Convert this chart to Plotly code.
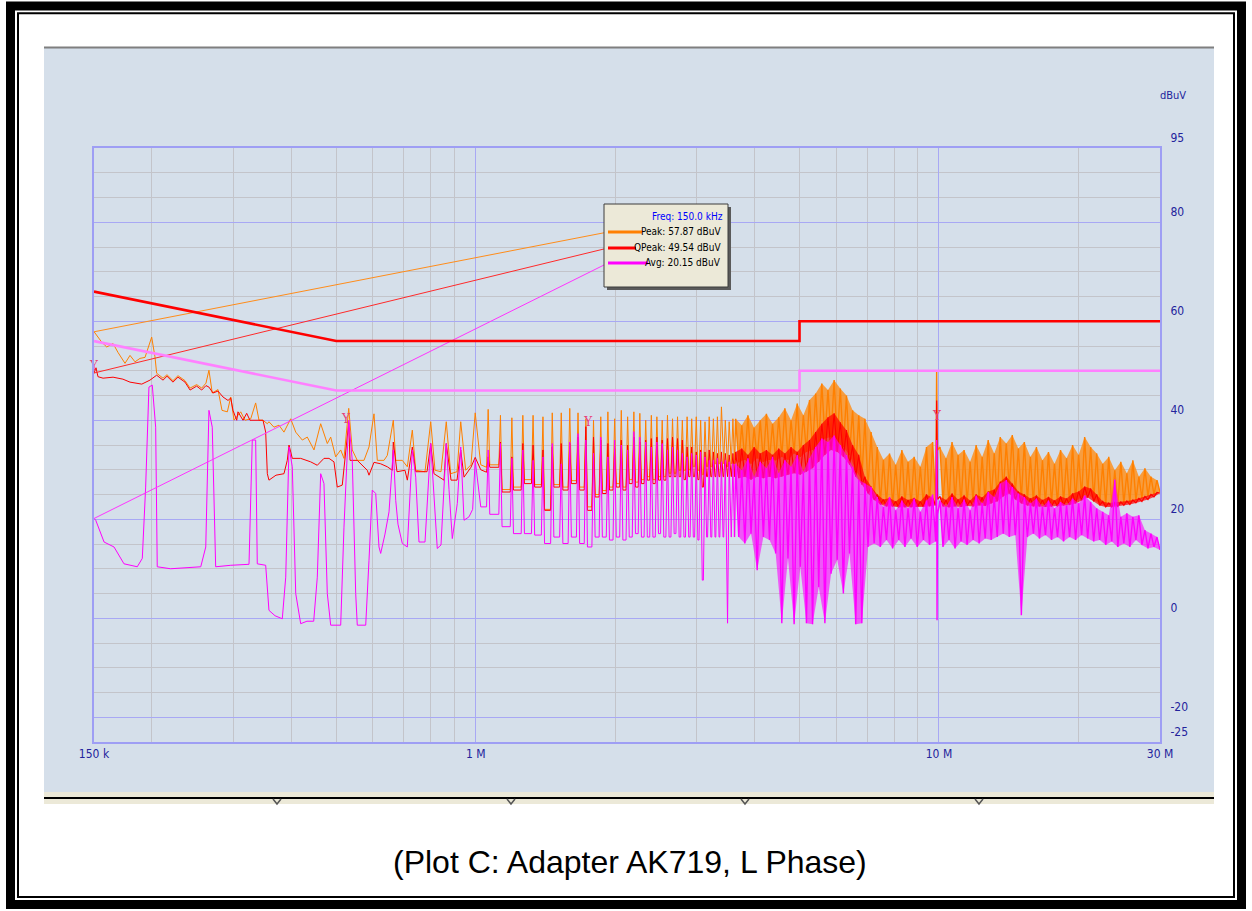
import numpy as np
import plotly.graph_objects as go

# ---------------- DATA ----------------
# Low band 150 kHz - 1 MHz (frequencies in kHz, levels in dBuV)
peak_lo_khz = [150.0, 155.8, 159.8, 164.9, 169.0, 175.0, 179.4, 183.9, 188.5, 193.3,
               199.8, 203.1, 204.8, 211.4, 215.6, 222.1, 227.7, 235.8, 241.8, 249.9,
               256.2, 261.7, 265.6, 270.0, 277.8, 283.4, 291.0, 296.0, 300.8, 311.0,
               317.7, 326.9, 335.0, 340.6, 347.5, 355.0, 357.9, 366.9, 376.2, 385.6,
               398.7, 408.8, 422.4, 433.0, 447.7, 462.8, 478.3, 486.4, 498.6, 511.2,
               519.6, 532.0, 541.5, 555.1, 574.0, 588.4, 603.2, 613.2, 634.0, 644.5,
               664.0, 672.0, 694.4, 711.9, 729.8, 742.2, 777.3, 799.7, 817.0, 841.6,
               864.0, 883.2, 911.4, 928.3, 951.5, 976.8, 997.5, 1025.5]
peak_lo_db = [57.9, 55.8, 54.8, 55.5, 53.7, 51.5, 53.1, 51.8, 52.5, 52.7,
              56.8, 52.8, 49.5, 48.5, 49.2, 48.0, 49.0, 48.0, 46.5, 47.2,
              46.5, 47.5, 50.1, 45.5, 46.2, 42.0, 41.7, 44.7, 40.0, 41.7,
              40.0, 40.3, 43.5, 40.0, 40.0, 39.3, 39.7, 38.6, 39.0, 37.6,
              40.3, 37.6, 36.0, 36.6, 34.0, 39.3, 35.3, 36.6, 32.6, 34.0,
              32.3, 42.4, 34.0, 31.9, 31.9, 34.6, 41.3, 31.9, 31.9, 32.9,
              40.0, 31.9, 31.9, 30.6, 38.0, 29.9, 29.6, 39.7, 29.9, 29.6,
              39.7, 29.2, 29.6, 39.7, 29.9, 31.0, 41.5, 31.0]

qp_lo_khz = [150.0, 151.5, 153.0, 156.9, 164.9, 173.2, 179.4, 190.2, 198.1, 204.8,
             211.4, 215.6, 222.1, 227.7, 235.8, 241.8, 249.9, 256.2, 261.7, 265.6,
             271.0, 277.8, 284.8, 292.0, 296.0, 299.3, 304.9, 306.8, 314.6, 320.4,
             325.7, 333.9, 347.5, 352.1, 355.0, 357.9, 370.6, 385.6, 392.0, 395.4,
             401.9, 419.0, 440.3, 455.1, 470.4, 482.3, 494.4, 502.6, 515.2, 532.0,
             535.4, 555.1, 564.6, 583.4, 588.4, 603.2, 623.6, 644.5, 660.7, 664.0,
             676.2, 703.7, 711.9, 729.8, 742.2, 785.1, 799.7, 812.8, 854.3, 864.0,
             884.6, 911.4, 928.3, 943.7, 976.8, 997.5, 1025.5]
qp_lo_db = [49.5, 50.6, 48.8, 48.5, 48.7, 48.3, 47.7, 47.3, 48.1, 49.1,
            48.1, 48.9, 47.7, 48.7, 47.7, 46.1, 46.9, 46.1, 47.0, 46.7,
            45.5, 45.9, 44.7, 44.0, 44.5, 42.0, 40.0, 41.7, 40.0, 41.4,
            40.0, 40.0, 40.0, 37.6, 29.2, 27.9, 28.9, 29.2, 31.9, 35.0,
            32.3, 32.3, 31.6, 30.9, 32.3, 32.3, 31.6, 26.5, 26.9, 39.5,
            31.9, 31.9, 31.2, 29.9, 28.9, 31.5, 31.2, 30.6, 29.9, 35.6,
            29.6, 29.9, 27.9, 34.6, 29.6, 29.6, 35.3, 29.2, 27.9, 35.3,
            27.9, 27.9, 34.0, 28.5, 30.5, 32.5, 30.0]

avg_lo_khz = [150.0, 151.3, 157.7, 165.7, 174.1, 186.0, 190.7, 193.9, 197.1, 200.4,
              203.8, 205.4, 219.5, 235.8, 255.0, 261.4, 265.6, 270.0, 274.6, 296.0,
              324.1, 329.4, 335.0, 337.7, 352.1, 357.9, 368.9, 382.4, 389.0, 395.4,
              401.9, 408.8, 419.0, 432.3, 447.0, 455.1, 462.8, 470.4, 478.3, 486.4,
              511.2, 519.6, 532.0, 541.5, 550.8, 555.1, 578.9, 588.4, 598.1, 608.4,
              618.4, 623.6, 637.1, 650.0, 664.0, 672.0, 679.6, 694.4, 711.9, 729.8,
              742.2, 754.4, 777.3, 799.7, 812.8, 826.2, 841.6, 864.0, 875.8, 890.3,
              912.7, 928.3, 943.7, 967.5, 985.0, 997.5, 1025.5]
avg_lo_db = [20.2, 19.8, 15.4, 14.4, 11.0, 10.4, 12.1, 26.5, 46.7, 47.1,
             38.6, 10.4, 10.0, 10.2, 10.4, 14.4, 42.0, 38.6, 10.4, 10.7,
             10.9, 36.0, 36.0, 11.0, 10.7, 1.6, 0.5, -0.1, 8.3, 34.6,
             30.6, 5.0, -1.1, -0.6, -0.6, 8.3, 29.2, 27.2, 5.0, -1.4,
             -1.4, 18.4, 40.0, 31.9, 5.0, -1.4, -1.4, 11.7, 25.9, 25.2,
             14.4, 13.1, 17.0, 21.5, 34.0, 23.8, 19.0, 15.1, 14.4, 34.0,
             28.5, 15.4, 15.4, 35.3, 25.0, 14.1, 14.8, 35.3, 26.0, 16.1,
             23.2, 34.6, 19.8, 20.5, 22.0, 31.9, 22.5]

# Harmonic band 1 - 3.6 MHz: switching-frequency harmonics (kHz),
# crest level at each harmonic and floor level before each harmonic (+ final floor)
harm_khz = [1064, 1131, 1197, 1264, 1330, 1397, 1463, 1530, 1596, 1663,
            1729, 1796, 1862, 1929, 1995, 2062, 2128, 2195, 2261, 2328,
            2394, 2461, 2527, 2594, 2660, 2727, 2793, 2860, 2926, 2993,
            3059, 3126, 3192, 3259, 3325, 3392, 3458, 3525, 3591]
peak_harm_top = [42.2, 41.0, 40.5, 41.0, 41.0, 40.7, 41.5, 41.5, 42.4, 41.5,
                 40.3, 40.0, 40.7, 41.7, 40.3, 42.0, 40.7, 41.7, 41.4, 40.0,
                 41.0, 40.7, 40.0, 41.0, 40.3, 40.7, 40.0, 40.7, 40.3, 40.7,
                 40.0, 39.7, 40.7, 40.3, 40.7, 42.7, 40.0, 39.7, 40.3]
peak_harm_floor = [30.5, 31.0, 26.0, 26.5, 28.0, 27.0, 22.0, 27.0, 26.5, 27.8,
                   26.5, 22.5, 25.0, 25.8, 26.5, 27.2, 26.5, 28.0, 27.5, 28.0,
                   28.6, 28.0, 28.6, 28.6, 29.3, 29.3, 29.9, 29.9, 30.0, 30.6,
                   29.9, 29.0, 30.6, 30.6, 31.2, 31.2, 31.2, 30.6, 31.2, 31.2]
qp_harm_top = [32.6, 35.6, 32.6, 35.3, 35.0, 34.0, 34.6, 35.3, 35.3, 36.6,
               38.7, 36.6, 36.0, 35.3, 34.3, 36.0, 35.0, 36.6, 35.6, 36.0,
               36.3, 36.6, 36.0, 36.3, 36.6, 36.3, 36.0, 34.6, 34.6, 33.6,
               34.0, 33.6, 34.0, 33.6, 33.3, 33.6, 33.3, 33.0, 33.3]
qp_harm_floor = [29.5, 30.5, 25.5, 25.9, 27.2, 26.5, 21.8, 26.5, 25.9, 27.2,
                 25.9, 21.8, 24.5, 25.2, 25.9, 26.5, 25.9, 27.2, 26.5, 27.2,
                 27.9, 27.2, 27.9, 27.9, 28.6, 28.6, 28.6, 28.0, 28.6, 28.6,
                 28.0, 26.5, 28.6, 28.6, 28.6, 28.6, 28.6, 28.6, 28.6, 28.6]
avg_harm_top = [34.0, 35.3, 32.3, 34.0, 31.9, 32.6, 35.3, 31.2, 35.6, 37.3,
                36.0, 33.3, 36.6, 32.6, 36.0, 35.0, 34.0, 37.7, 36.6, 35.6,
                34.6, 35.6, 35.3, 34.0, 34.6, 34.0, 33.3, 32.6, 33.3, 33.0,
                33.6, 32.6, 31.9, 31.9, 32.3, 31.6, 31.9, 31.6, 31.2]
avg_harm_floor = [22.5, 21.0, 18.5, 17.1, 17.1, 16.8, 15.1, 16.4, 15.1, 16.4,
                  15.1, 14.4, 16.4, 16.4, 15.8, 16.4, 15.8, 16.4, 17.1, 16.4,
                  16.4, 16.4, 17.1, 16.4, 16.4, 17.1, 16.4, 16.4, 16.4, 16.4,
                  15.8, 7.7, 16.4, 16.4, 16.4, 16.4, 16.4, -1.0, 16.4, 16.4]

# Dense band A (3.64 - 9.84 MHz): alternating crest / floor readings
dense_a_mhz = (3.64, 9.84)
peak_dense_a = [40.3, 31.5, 39.0, 32.0, 41.0, 31.2, 38.5, 32.3, 40.0, 31.6,
                41.3, 32.0, 39.3, 31.9, 40.6, 32.6, 42.4, 32.0, 40.0, 33.3,
                43.4, 32.6, 41.0, 33.6, 44.1, 34.0, 45.4, 35.0, 47.4, 36.3,
                46.1, 36.6, 48.1, 35.6, 46.4, 34.6, 45.0, 33.0, 42.0, 29.9,
                41.0, 28.0, 40.3, 26.0, 37.6, 24.5, 34.6, 23.2, 32.0, 23.0,
                33.3, 22.8, 31.0, 22.6, 34.0, 22.8, 31.6, 22.6, 32.6, 22.6,
                30.6, 22.8, 34.6, 23.0, 35.6, 23.2]
qp_dense_a = [33.6, 28.3, 34.3, 28.6, 33.0, 28.0, 34.6, 28.6, 33.3, 28.3,
              34.0, 28.6, 33.0, 28.3, 34.3, 28.6, 33.3, 29.0, 34.6, 29.3,
              33.6, 29.0, 35.0, 29.6, 36.0, 30.3, 37.6, 31.6, 39.3, 33.0,
              40.6, 34.0, 41.4, 33.6, 39.6, 32.6, 38.0, 31.0, 35.0, 28.6,
              33.0, 27.0, 28.6, 25.2, 26.6, 23.9, 25.0, 23.0, 24.0, 22.6,
              24.3, 22.6, 23.6, 22.4, 24.6, 22.4, 23.9, 22.4, 24.3, 22.5,
              23.6, 22.5, 25.0, 22.6, 24.3, 22.8]
avg_dense_a = [31.2, 16.4, 29.9, 15.1, 32.3, 17.1, 28.6, 9.7, 31.6, 16.4,
               30.3, 15.8, 32.6, 13.1, 29.3, -1.0, 31.9, 12.1, 30.6, -1.2,
               33.0, 10.4, 29.6, -1.0, 32.3, -1.2, 34.6, 6.3, 36.3, -1.0,
               35.6, 9.0, 36.9, 11.8, 35.0, 5.0, 33.0, 13.1, 30.6, -1.2,
               28.0, -1.0, 27.2, 14.4, 26.5, 15.1, 24.5, 14.4, 22.5, 15.8,
               24.5, 14.1, 21.8, 15.8, 23.8, 14.4, 22.2, 16.1, 24.2, 14.4,
               21.5, 15.8, 23.8, 14.8, 25.0, 15.5]

# Narrow spike just below 10 MHz
spike_mhz = [9.86, 9.885, 9.905, 9.93]
peak_spike = [33.0, 49.8, 40.0, 34.0]
qp_spike = [23.5, 44.0, 30.0, 24.0]
avg_spike = [22.0, 36.0, -0.4, 21.0]

# Dense band B (10.05 - 30 MHz): alternating crest / floor readings
dense_b_mhz = (10.05, 30.0)
peak_dense_b = [34.6, 23.2, 32.3, 23.0, 35.6, 23.4, 33.0, 23.0, 34.0, 23.2,
                31.6, 23.4, 35.0, 23.6, 32.6, 23.2, 36.0, 23.9, 33.3, 24.2,
                36.6, 25.5, 35.3, 26.5, 37.0, 25.0, 34.3, 24.0, 35.6, 23.6,
                32.6, 23.2, 34.6, 23.2, 31.9, 23.0, 33.6, 23.2, 31.2, 23.0,
                34.0, 23.2, 32.3, 23.4, 35.0, 23.6, 33.0, 24.5, 36.6, 25.2,
                34.6, 24.0, 33.3, 23.2, 31.2, 22.8, 32.6, 22.8, 29.9, 23.0,
                31.6, 23.2, 29.3, 23.4, 31.9, 23.8, 28.6, 24.2, 30.3, 24.6,
                28.6, 25.0, 27.9, 25.5]
qp_dense_b = [24.6, 22.6, 23.9, 22.4, 25.2, 22.6, 24.0, 22.5, 24.8, 22.7,
              23.8, 22.6, 25.0, 22.8, 24.4, 22.7, 25.6, 23.2, 26.0, 23.6,
              27.6, 24.6, 28.6, 25.2, 27.2, 24.0, 25.6, 23.2, 25.0, 22.8,
              24.2, 22.6, 24.8, 22.6, 23.9, 22.5, 24.5, 22.6, 23.8, 22.6,
              24.6, 22.8, 24.2, 22.9, 25.2, 23.2, 25.6, 23.8, 26.6, 24.4,
              26.2, 23.6, 25.0, 22.8, 23.6, 22.5, 23.3, 22.5, 23.4, 22.6,
              23.5, 22.8, 23.7, 23.0, 23.9, 23.3, 24.2, 23.6, 24.6, 24.0,
              25.0, 24.5, 25.4, 25.3]
avg_dense_b = [23.8, 14.4, 22.5, 15.8, 24.5, 14.1, 22.2, 15.5, 24.0, 14.8,
               21.8, 15.8, 24.8, 15.1, 23.2, 16.1, 25.5, 15.8, 24.5, 16.4,
               27.2, 17.1, 27.9, 16.4, 26.5, 16.8, 25.2, 0.6, 24.5, 16.4,
               23.2, 17.1, 24.2, 16.1, 22.5, 16.8, 23.8, 15.8, 22.2, 16.4,
               23.5, 15.5, 22.8, 16.4, 24.2, 15.8, 23.2, 16.8, 24.8, 16.1,
               23.5, 15.5, 22.2, 15.8, 21.5, 14.8, 20.8, 15.5, 28.0, 14.4,
               20.5, 15.1, 21.2, 14.4, 20.5, 15.8, 20.8, 14.8, 17.8, 14.1,
               17.1, 14.4, 16.4, 13.8]

# Limit lines
limit_mhz = [0.15, 0.5, 5.0, 5.0, 30.0]
qp_limit_db = [66.0, 56.0, 56.0, 60.0, 60.0]
avg_limit_db = [56.0, 46.0, 46.0, 50.0, 50.0]

# Marker flags and readout at 150 kHz
marker_mhz = [0.15, 0.525, 1.75, 9.9]
marker_db = [50.7, 40.0, 39.4, 40.6]
readout_freq_mhz = 0.15
readout_names = ["Peak", "QPeak", "Avg"]
readout_db = [57.87, 49.54, 20.15]

x_tick_vals = [0.15, 1, 10, 30]
x_tick_text = ["150 k", "1 M", "10 M", "30 M"]
x_minor_vals = [0.2, 0.3, 0.4, 0.5, 0.6, 0.7, 0.8, 0.9, 2, 3, 4, 5, 6, 7, 8, 9, 20]
y_tick_vals = [-25, -20, 0, 20, 40, 60, 80, 95]
y_tick_text = ["-25", "-20", "0", "20", "40", "60", "80", "95"]

# ---------------- BUILD ----------------
SPIKE_HALF = 0.008


def harmonic_series(top, floor):
    f, v = [], []
    for i, h in enumerate(harm_khz):
        f += [h * (1 - SPIKE_HALF) / 1000.0, h / 1000.0, h * (1 + SPIKE_HALF) / 1000.0]
        v += [floor[i], top[i], floor[i + 1]]
    return f, v


def build(lo_khz, lo_db, top, floor, dense_a, spike, dense_b):
    f1 = [k / 1000.0 for k in lo_khz]
    v1 = list(lo_db)
    hf, hv = harmonic_series(top, floor)
    f1 += hf
    v1 += hv
    ga = list(np.geomspace(dense_a_mhz[0], dense_a_mhz[1], len(dense_a)))
    gb = list(np.geomspace(dense_b_mhz[0], dense_b_mhz[1], len(dense_b)))
    f2 = [f1[-1]] + ga + spike_mhz + gb
    v2 = [v1[-1]] + list(dense_a) + list(spike) + list(dense_b)
    # band outline (crests forward, floors backward) for each dense block
    bands = []
    for g, vals in [(ga, dense_a), (gb, dense_b)]:
        bx = g[0::2] + g[1::2][::-1]
        by = list(vals[0::2]) + list(vals[1::2])[::-1]
        bands.append((bx + [bx[0]], by + [by[0]]))
    return (f1, v1), (f2, v2), bands


peak_parts = build(peak_lo_khz, peak_lo_db, peak_harm_top, peak_harm_floor,
                   peak_dense_a, peak_spike, peak_dense_b)
qp_parts = build(qp_lo_khz, qp_lo_db, qp_harm_top, qp_harm_floor,
                 qp_dense_a, qp_spike, qp_dense_b)
avg_parts = build(avg_lo_khz, avg_lo_db, avg_harm_top, avg_harm_floor,
                  avg_dense_a, avg_spike, avg_dense_b)

# pixel geometry helpers (plot area 94..1160 x 148..742 in a 1252x911 page)
L, R, T, B = 94, 1160, 148, 742
PW, PH = R - L, B - T
XMIN, XMAX = np.log10(0.15), np.log10(30)
YMIN, YMAX = -25, 95


def px(x):
    return (x - L) / PW


def py(y):
    return (B - y) / PH


def pix_to_data(xp, yp):
    return 10 ** (XMIN + (xp - L) / PW * (XMAX - XMIN)), YMIN + (B - yp) / PH * (YMAX - YMIN)


ORANGE, RED, MAGENTA = "#FF8000", "#FF0000", "#FF00FF"
NARROW = "Liberation Sans Narrow, Arial Narrow, DejaVu Sans Condensed, sans-serif"
TICKCOL = "#23239C"
BG = "#D5DFEA"

fig = go.Figure()
for parts, c, fillc, dense_w in [(peak_parts, ORANGE, "rgba(255,140,20,0.8)", 1.4),
                                 (qp_parts, RED, "rgba(255,0,0,0.7)", 1.2),
                                 (avg_parts, MAGENTA, "rgba(255,0,255,0.6)", 1.4)]:
    (f1, v1), (f2, v2), bands = parts
    for bx, by in bands:
        fig.add_trace(go.Scatter(x=bx, y=by, mode="lines", fill="toself", fillcolor=fillc,
                                 line=dict(width=0), hoverinfo="skip", showlegend=False))
    fig.add_trace(go.Scatter(x=f1, y=v1, mode="lines", line=dict(color=c, width=1),
                             hoverinfo="skip", showlegend=False))
    fig.add_trace(go.Scatter(x=f2, y=v2, mode="lines", line=dict(color=c, width=dense_w),
                             hoverinfo="skip", showlegend=False))

# readout box geometry (pixels)
box = dict(x0=604, x1=728, y0=204, y1=287)
sample_y = [232, 248, 263]
sample_x1 = [642, 636, 648]
sample_cols = [ORANGE, RED, MAGENTA]
leader_cols = ["#FF8C1A", "#FF2A2A", "#FF33FF"]

for i in range(3):
    ex, ey = pix_to_data(608, sample_y[i])
    fig.add_trace(go.Scatter(x=[readout_freq_mhz, ex], y=[readout_db[i], ey], mode="lines",
                             line=dict(color=leader_cols[i], width=1), hoverinfo="skip",
                             showlegend=False, cliponaxis=False))

fig.add_trace(go.Scatter(x=limit_mhz, y=qp_limit_db, mode="lines",
                         line=dict(color="#FF0000", width=2.6), hoverinfo="skip", showlegend=False))
fig.add_trace(go.Scatter(x=limit_mhz, y=avg_limit_db, mode="lines",
                         line=dict(color="#FF80FF", width=2.6), hoverinfo="skip", showlegend=False))

fig.add_trace(go.Scatter(x=marker_mhz, y=marker_db, mode="text", text=["Y"] * len(marker_mhz),
                         textfont=dict(color="#E8407A", size=12, family="DejaVu Serif"),
                         hoverinfo="skip", showlegend=False, cliponaxis=False))

shapes = []
# light panel
shapes.append(dict(type="rect", xref="paper", yref="paper", x0=px(44), x1=px(1214),
                   y0=py(792), y1=py(47), fillcolor=BG, line=dict(width=0), layer="below"))
shapes.append(dict(type="line", xref="paper", yref="paper", x0=px(44), x1=px(1214),
                   y0=py(47.5), y1=py(47.5), line=dict(color="#7F7F7F", width=2), layer="below"))
# tab strip
shapes.append(dict(type="rect", xref="paper", yref="paper", x0=px(44), x1=px(1214),
                   y0=py(804), y1=py(792), fillcolor="#ECE9D8", line=dict(width=0), layer="below"))
shapes.append(dict(type="line", xref="paper", yref="paper", x0=px(44), x1=px(1214),
                   y0=py(798), y1=py(798), line=dict(color="#000000", width=2), layer="below"))
for nx in [277, 511, 745, 979]:
    shapes.append(dict(type="path", xref="paper", yref="paper",
                       path=f"M {px(nx-4)},{py(799)} L {px(nx)},{py(804)} L {px(nx+4)},{py(799)}",
                       line=dict(color="#555555", width=1.5), layer="below"))
# outer frame
shapes.append(dict(type="rect", xref="paper", yref="paper", x0=px(10.5), x1=px(1241.5),
                   y0=py(904.5), y1=py(6), line=dict(color="#000000", width=9),
                   fillcolor="rgba(0,0,0,0)"))
shapes.append(dict(type="rect", xref="paper", yref="paper", x0=px(18), x1=px(1234),
                   y0=py(897), y1=py(13.3), line=dict(color="#000000", width=2),
                   fillcolor="rgba(0,0,0,0)"))
# readout box with shadow
shapes.append(dict(type="rect", xref="paper", yref="paper", x0=px(box["x0"] + 3), x1=px(box["x1"] + 3),
                   y0=py(box["y1"] + 3), y1=py(box["y0"] + 3), fillcolor="#5A5A5A",
                   line=dict(width=0)))
shapes.append(dict(type="rect", xref="paper", yref="paper", x0=px(box["x0"]), x1=px(box["x1"]),
                   y0=py(box["y1"]), y1=py(box["y0"]), fillcolor="#ECE9D8",
                   line=dict(color="#3C3C3C", width=1)))
for i in range(3):
    shapes.append(dict(type="line", xref="paper", yref="paper", x0=px(608), x1=px(sample_x1[i]),
                       y0=py(sample_y[i]), y1=py(sample_y[i]),
                       line=dict(color=sample_cols[i], width=3)))

annotations = []
annotations.append(dict(xref="paper", yref="paper", x=px(725), y=py(216), xanchor="right",
                        yanchor="middle", text=f"Freq: {readout_freq_mhz*1000:.1f} kHz",
                        showarrow=False, font=dict(family=NARROW, size=10, color="#0000FF")))
for i in range(3):
    annotations.append(dict(xref="paper", yref="paper", x=px(723), y=py(sample_y[i] - 0.5),
                            xanchor="right", yanchor="middle",
                            text=f"{readout_names[i]}: {readout_db[i]:.2f} dBuV",
                            showarrow=False, font=dict(family=NARROW, size=10, color="#000000")))
annotations.append(dict(xref="paper", yref="paper", x=px(1173), y=py(96), xanchor="center",
                        yanchor="middle", text="dBuV", showarrow=False,
                        font=dict(family=NARROW, size=11, color=TICKCOL)))
annotations.append(dict(xref="paper", yref="paper", x=px(630), y=py(862), xanchor="center",
                        yanchor="middle", text="(Plot C: Adapter AK719, L Phase)", showarrow=False,
                        font=dict(family="Liberation Sans, Arial, sans-serif", size=32, color="#000000")))

fig.update_xaxes(type="log", range=[XMIN, XMAX], tickmode="array", tickvals=x_tick_vals,
                 ticktext=x_tick_text, showgrid=True, gridcolor="#A8A8F4", gridwidth=1,
                 minor=dict(tickmode="array", tickvals=x_minor_vals, showgrid=True,
                            gridcolor="#C3C4CA", gridwidth=1, ticks=""),
                 showline=True, mirror=True, linecolor="#9E9EF4", linewidth=2, ticks="",
                 zeroline=False, tickfont=dict(family=NARROW, size=12, color=TICKCOL))
fig.update_yaxes(range=[YMIN, YMAX], side="right", tickmode="array", tickvals=y_tick_vals,
                 ticktext=y_tick_text, showgrid=True, gridcolor="#A8A8F4", gridwidth=1,
                 minor=dict(tickmode="linear", tick0=0, dtick=5, showgrid=True,
                            gridcolor="#C3C4CA", gridwidth=1, ticks=""),
                 showline=True, mirror=True, linecolor="#9E9EF4", linewidth=2, ticks="",
                 zeroline=False, ticklabelshift=-10, ticklabelstandoff=6,
                 tickfont=dict(family=NARROW, size=12, color=TICKCOL))

fig.update_layout(width=1252, height=911, margin=dict(l=L, r=1252 - R, t=T, b=911 - B, pad=0),
                  paper_bgcolor="#FFFFFF", plot_bgcolor=BG, showlegend=False,
                  shapes=shapes, annotations=annotations)

fig.write_html("out.html", config={"displayModeBar": False},
               post_script="document.body.style.margin='0px';")
